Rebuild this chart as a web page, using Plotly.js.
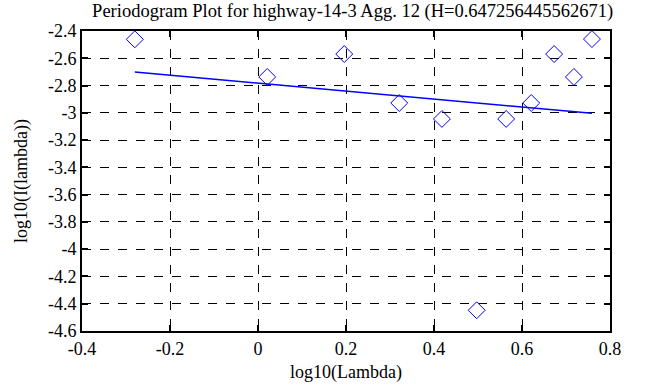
<!DOCTYPE html>
<html>
<head>
<meta charset="utf-8">
<script src="https://cdn.plot.ly/plotly-3.0.1.min.js"></script>
<style>html,body{margin:0;padding:0;background:#fff;}#chart{width:668px;height:387px;}</style>
</head>
<body>
<div id="chart"></div>
<script>
// Periodogram points
var logLambda = [-0.280, 0.021, 0.196, 0.321, 0.418, 0.497, 0.564, 0.621, 0.673, 0.718, 0.759];
var logI = [-2.461, -2.737, -2.569, -2.928, -3.045, -4.448, -3.045, -2.928, -2.569, -2.737, -2.459];
// Fitted line endpoints
var fitX = [-0.280, 0.759];
var fitY = [-2.700, -3.004];
// Tick labels
var xTickVals = [-0.4, -0.2, 0, 0.2, 0.4, 0.6, 0.8];
var xTickText = ["-0.4", "-0.2", "0", "0.2", "0.4", "0.6", "0.8"];
var yTickVals = [-2.4, -2.6, -2.8, -3.0, -3.2, -3.4, -3.6, -3.8, -4.0, -4.2, -4.4, -4.6];
var yTickText = ["-2.4", "-2.6", "-2.8", "-3", "-3.2", "-3.4", "-3.6", "-3.8", "-4", "-4.2", "-4.4", "-4.6"];
var titleText = "Periodogram Plot for highway-14-3 Agg. 12 (H=0.647256445562671)";

var fam = "Liberation Serif, Times New Roman, serif";
var font = {family: fam, size: 18, color: "#000"};

var traces = [
  {x: logLambda, y: logI, mode: "markers", type: "scatter",
   marker: {symbol: "diamond-open", size: 13, color: "#0000ff", line: {width: 1, color: "#0000ff"}},
   hoverinfo: "skip"},
  {x: fitX, y: fitY, mode: "lines", type: "scatter",
   line: {color: "#0000ff", width: 1.5}, hoverinfo: "skip"}
];

var axisCommon = {
  showline: true, linecolor: "#000", linewidth: 2, mirror: "ticks",
  ticks: "inside", ticklen: 6, tickwidth: 2, tickcolor: "#000",
  showgrid: true, gridcolor: "#000", gridwidth: 1, griddash: "dash",
  zeroline: false, tickfont: font, tickmode: "array"
};

var layout = {
  width: 668, height: 387,
  margin: {l: 81.5, r: 58, t: 30.7, b: 56.3},
  paper_bgcolor: "#fff", plot_bgcolor: "#fff",
  showlegend: false,
  font: font,
  title: {text: titleText, font: {family: fam, size: 18.5, color: "#000"},
          x: 0.528, xanchor: "center", yref: "container", y: 1, yanchor: "top",
          pad: {t: 4}},
  xaxis: Object.assign({}, axisCommon, {
    range: [-0.4, 0.8], tickvals: xTickVals, ticktext: xTickText,
    title: {text: "log10(Lambda)", font: font, standoff: 8}
  }),
  yaxis: Object.assign({}, axisCommon, {
    range: [-4.6, -2.4], tickvals: yTickVals, ticktext: yTickText,
    title: {text: "log10(I(lambda))", font: font, standoff: 16}
  })
};

Plotly.newPlot("chart", traces, layout, {staticPlot: true, displayModeBar: false});
</script>
</body>
</html>
